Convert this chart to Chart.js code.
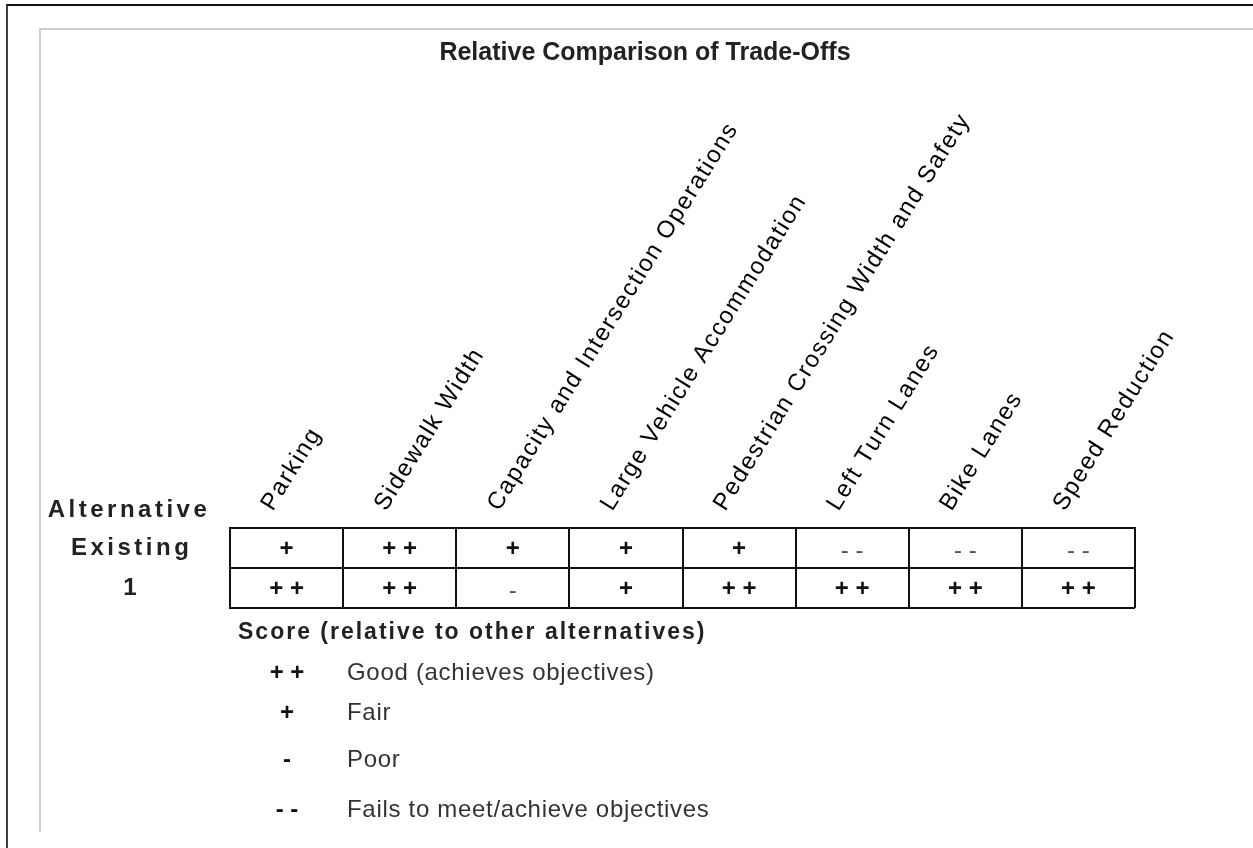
<!DOCTYPE html>
<html>
<head>
<meta charset="utf-8">
<title>Relative Comparison of Trade-Offs</title>
<script src="https://cdn.jsdelivr.net/npm/chart.js@4.4.1/dist/chart.umd.min.js"></script>
<style>
  html, body { margin: 0; padding: 0; background: #fff; overflow: hidden; }
  #page { position: relative; width: 1253px; height: 848px; }
  /* scanned page frame: dark outer edge + light inner edge */
  .outer { position: absolute; left: 6px; top: 4px; right: 0; bottom: 0; border-left: 2px solid #404040; border-top: 2px solid #111; }
  .inner { position: absolute; left: 39px; top: 28px; right: 0; height: 802px; border-left: 2px solid #cdcdcd; border-top: 2px solid #cdcdcd; }
  #wrap { position: absolute; left: 0; top: 0; width: 1253px; height: 848px; }
</style>
</head>
<body>
<div id="page">
  <div class="outer"></div>
  <div class="inner"></div>
  <div id="wrap"><canvas id="tradeChart"></canvas></div>
</div>
<script>
// columns (criteria) and rows (alternatives)
const criteria = ['Parking', 'Sidewalk Width', 'Capacity and Intersection Operations', 'Large Vehicle Accommodation',
                  'Pedestrian Crossing Width and Safety', 'Left Turn Lanes', 'Bike Lanes', 'Speed Reduction'];
const alternatives = ['Existing', '1'];

// score of each alternative per criterion
const existingScores = ['+', '++', '+', '+', '+', '--', '--', '--'];
const alt1Scores = ['++', '++', '-', '+', '++', '++', '++', '++'];

// key
const scoreSymbols = ['++', '+', '-', '--'];
const scoreMeanings = ['Good (achieves objectives)', 'Fair', 'Poor', 'Fails to meet/achieve objectives'];

const chartTitle = 'Relative Comparison of Trade-Offs';
const rowHeader = 'Alternative';
const keyTitle = 'Score (relative to other alternatives)';

const FONT = "'Liberation Sans', Arial, sans-serif";

// one point per table cell
const cells = [];
alternatives.forEach((alt, r) => {
    const scores = r === 0 ? existingScores : alt1Scores;
    criteria.forEach((c, i) => cells.push({ x: c, y: alt, score: scores[i] }));
});

function spaced(s) {
    return s.split('').join(' ');
}

// the scan's lettering is a little wider than Arial, so tick labels get some letter spacing
const tickSpacing = { x: '1.6px', y: '3.5px' };

const tradeOffPlugin = {
    id: 'tradeOffTable',
    beforeDraw(chart) {
        Object.keys(tickSpacing).forEach(id => {
            const scale = chart.scales[id];
            if (!scale || scale._spaced) return;
            const orig = scale.drawLabels;
            scale.drawLabels = function(area) {
                const prev = this.ctx.letterSpacing;
                this.ctx.letterSpacing = tickSpacing[id];
                orig.call(this, area);
                this.ctx.letterSpacing = prev;
            };
            scale._spaced = true;
        });
    },
    afterDatasetsDraw(chart) {
        const ctx = chart.ctx;
        const meta = chart.getDatasetMeta(0);
        ctx.save();
        ctx.textAlign = 'center';
        ctx.textBaseline = 'middle';
        meta.data.forEach((pt, i) => {
            const score = cells[i].score;
            const good = score.includes('+');
            ctx.font = (good ? 'bold ' : '') + '24px ' + FONT;
            ctx.fillStyle = good ? '#111' : '#555';
            ctx.fillText(spaced(score), pt.x, pt.y + (good ? 1 : 3));
        });
        ctx.restore();
    },
    afterDraw(chart) {
        const ctx = chart.ctx;
        const area = chart.chartArea;
        ctx.save();
        ctx.textBaseline = 'middle';

        // row header above the alternatives
        ctx.letterSpacing = '3.5px';
        ctx.textAlign = 'center';
        ctx.font = 'bold 24px ' + FONT;
        ctx.fillStyle = '#222';
        ctx.fillText(rowHeader, area.left - 101, area.top - 18);

        // key below the table
        ctx.textAlign = 'left';
        ctx.letterSpacing = '2px';
        ctx.font = 'bold 23px ' + FONT;
        ctx.fillStyle = '#222';
        ctx.fillText(keyTitle, area.left + 8, area.bottom + 25);

        const rowY = [65, 105, 152, 202];
        scoreSymbols.forEach((s, i) => {
            const y = area.bottom + rowY[i];
            ctx.letterSpacing = '0px';
            ctx.textAlign = 'center';
            ctx.font = 'bold 24px ' + FONT;
            ctx.fillStyle = '#111';
            ctx.fillText(spaced(s), area.left + 57, y);
            ctx.letterSpacing = '0.7px';
            ctx.textAlign = 'left';
            ctx.font = '24px ' + FONT;
            ctx.fillStyle = '#333';
            ctx.fillText(scoreMeanings[i], area.left + 117, y);
        });
        ctx.restore();
        ctx.letterSpacing = '0px';
    }
};

const noPad = (scale) => {
    scale.paddingLeft = 0;
    scale.paddingRight = 0;
    scale.paddingTop = 0;
    scale.paddingBottom = 0;
};

new Chart(document.getElementById('tradeChart'), {
    type: 'scatter',
    data: {
        datasets: [{
            data: cells,
            pointRadius: 0,
            pointHoverRadius: 0
        }]
    },
    options: {
        responsive: true,
        maintainAspectRatio: false,
        animation: false,
        events: [],
        layout: { padding: { left: 155, right: 118, top: 20, bottom: 240 } },
        plugins: {
            legend: { display: false },
            tooltip: { enabled: false },
            title: {
                display: true,
                text: chartTitle,
                color: '#222',
                font: { family: FONT, size: 25, weight: 'bold' },
                padding: { top: 18, bottom: 0 }
            }
        },
        scales: {
            x: {
                type: 'category',
                labels: criteria,
                position: 'top',
                offset: true,
                grid: { offset: true, color: '#111', lineWidth: 2, drawTicks: false },
                border: { color: '#111', width: 2 },
                ticks: {
                    autoSkip: false,
                    minRotation: 58,
                    maxRotation: 58,
                    padding: 12,
                    labelOffset: 5,
                    color: '#000',
                    font: { family: FONT, size: 24 }
                },
                afterFit(scale) {
                    // room for the slanted headers, table starts right below
                    scale.height = 460;
                    noPad(scale);
                }
            },
            y: {
                type: 'category',
                labels: alternatives,
                position: 'left',
                offset: true,
                grid: { offset: true, color: '#111', lineWidth: 2, drawTicks: false },
                border: { color: '#111', width: 2 },
                ticks: {
                    mirror: true,           // no clipping to the narrow axis box
                    crossAlign: 'center',
                    padding: -145,          // labels centred well left of the table
                    color: '#222',
                    font: { family: FONT, size: 24, weight: 'bold' }
                },
                afterFit(scale) {
                    scale.width = 75;
                    noPad(scale);
                }
            }
        }
    },
    plugins: [tradeOffPlugin]
});
</script>
</body>
</html>
